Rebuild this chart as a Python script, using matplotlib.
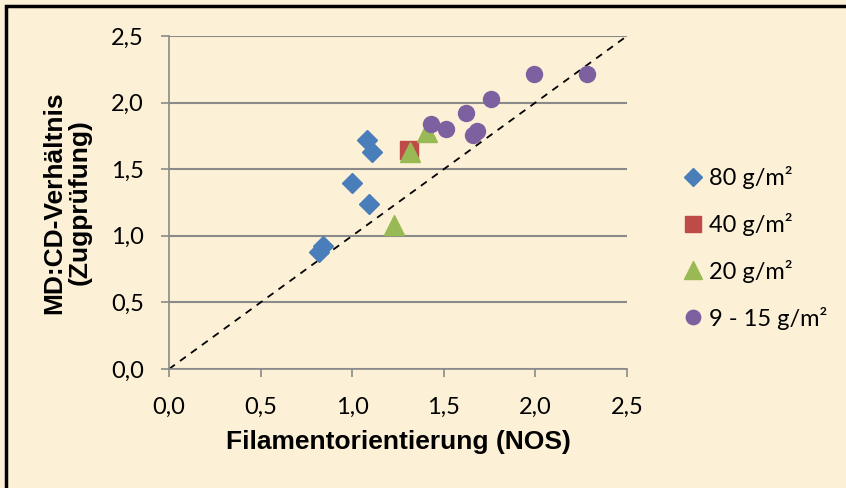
import matplotlib
matplotlib.use("Agg")
import matplotlib.pyplot as plt
import matplotlib.ticker as mticker
from matplotlib.patches import Rectangle

# data
x_80 = [1.08, 1.11, 1.00, 1.09, 0.82, 0.84]
y_80 = [1.72, 1.63, 1.40, 1.24, 0.88, 0.92]
x_40 = [1.31]
y_40 = [1.645]
x_20 = [1.315, 1.41, 1.23]
y_20 = [1.63, 1.78, 1.08]
x_915 = [1.99, 2.28, 1.76, 1.62, 1.43, 1.51, 1.68, 1.66]
y_915 = [2.215, 2.215, 2.03, 1.92, 1.84, 1.80, 1.79, 1.76]
labels = ["80 g/m²", "40 g/m²", "20 g/m²", "9 - 15 g/m²"]

BG = "#FCF0D6"
GRID = "#8A8A8A"

fig = plt.figure(figsize=(8.46, 4.88), dpi=100)
fig.patch.set_facecolor(BG)
W, H = 846, 488
ax = fig.add_axes([169/W, 1-369/H, (627-169)/W, (369-36)/H])
ax.set_facecolor("none")

ax.set_xlim(0, 2.5); ax.set_ylim(0, 2.5)
ax.set_xticks([0, 0.5, 1.0, 1.5, 2.0, 2.5])
ax.set_yticks([0, 0.5, 1.0, 1.5, 2.0, 2.5])
comma = mticker.FuncFormatter(lambda v, _: f"{v:.1f}".replace(".", ","))
ax.xaxis.set_major_formatter(comma); ax.yaxis.set_major_formatter(comma)
ax.grid(axis="y", color=GRID, lw=1.5)
ax.set_axisbelow(True)
for sp in ["top", "right"]:
    ax.spines[sp].set_visible(False)
for sp in ["left", "bottom"]:
    ax.spines[sp].set_color(GRID); ax.spines[sp].set_linewidth(1.2)
ax.tick_params(colors=GRID, length=6, width=1.2, labelcolor="black", labelsize=17)
ax.tick_params(axis="x", pad=14)
ax.tick_params(axis="y", pad=12)
for t in ax.get_xticklabels() + ax.get_yticklabels():
    t.set_fontfamily("Lato")

ax.plot([0, 2.5], [0, 2.5], color="black", ls=(0, (4, 3.5)), lw=1.3, zorder=2)

ax.plot(x_80, y_80, ls="", marker="D", ms=10, color="#4A7EBB", label=labels[0], zorder=3)
ax.plot(x_40, y_40, ls="", marker="s", ms=13.5, color="#BE4B48", label=labels[1], zorder=3)
ax.plot(x_20, y_20, ls="", marker="^", ms=14, color="#98B954", label=labels[2], zorder=4)
ax.plot(x_915, y_915, ls="", marker="o", ms=11.5, color="#7D60A0", label=labels[3], zorder=4)

ax.set_xlabel("Filamentorientierung (NOS)", fontsize=19, fontweight="bold",
              fontfamily="Liberation Sans", labelpad=9)
ax.set_ylabel("MD:CD-Verhältnis\n(Zugprüfung)", fontsize=19, fontweight="bold",
              fontfamily="Liberation Sans", labelpad=14, linespacing=1.05)

leg = ax.legend(loc="upper left", bbox_to_anchor=(684/W, 1-166/H), bbox_transform=fig.transFigure,
                frameon=False, markerscale=0.9, handlelength=0.8, handletextpad=0.25,
                labelspacing=1.01, borderpad=0, borderaxespad=0,
                prop={"family": "Lato", "size": 17})

# black frame on left and top edge
fig.add_artist(Rectangle((6/W, -0.05), 1.2, 1 - 6/H + 0.05, transform=fig.transFigure,
                         fill=False, edgecolor="black", lw=2.5))

fig.savefig("out.png", dpi=100, facecolor=BG)
